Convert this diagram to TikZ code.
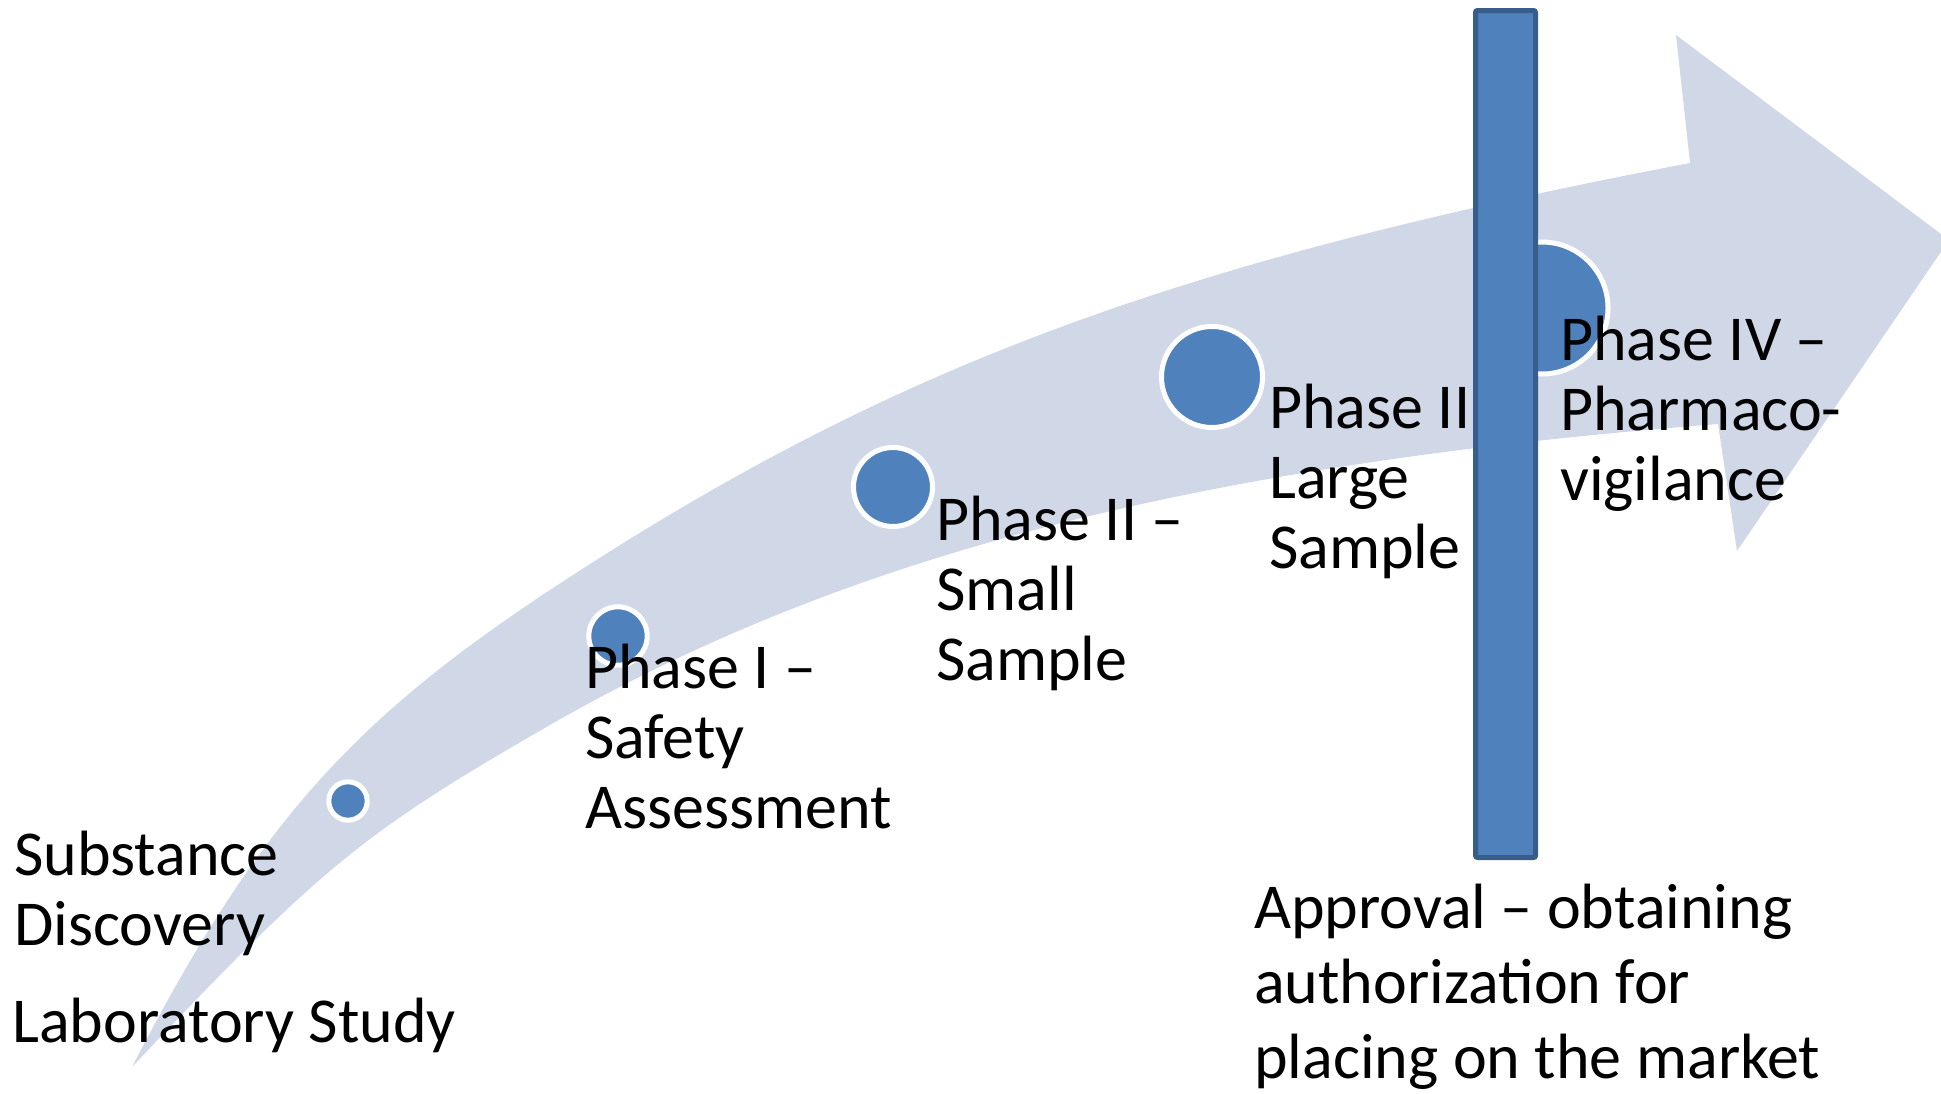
\documentclass[tikz,border=0pt]{standalone}
\usepackage{fontspec}
\setmainfont{Carlito}
\definecolor{bandc}{RGB}{208,216,232}
\definecolor{dotc}{RGB}{79,129,189}
\definecolor{barline}{RGB}{56,93,138}
\begin{document}
\begin{tikzpicture}[x=1pt,y=-1pt,
  dot/.style={circle,inner sep=0pt,fill=dotc,draw=white,line width=5pt},
  lbl/.style={anchor=base west,inner sep=0pt,font=\fontsize{64}{70}\selectfont},
  barbox/.style={rectangle,inner sep=0pt,fill=dotc,draw=barline,line width=5pt,rounded corners=2pt},
]
\clip (0,0) rectangle (1941,1093);
% curved arrow band
\fill[bandc] (132,1067) .. controls (256,827) and (350,722) .. (550,590)
  .. controls (886,368.5) and (1171,262) .. (1690,163)
  -- (1676,35) -- (1949,240) -- (1737,551) -- (1718,424)
  .. controls (1196,464.8) and (845.6,555.2) .. (550,725)
  .. controls (363.5,832.1) and (321.6,866.3) .. (132,1067)
  -- cycle;
% milestone dots
\node[dot,minimum size=38.4pt] (c1) at (348,801) {};
\node[dot,minimum size=58.4pt] (c2) at (618,636) {};
\node[dot,minimum size=79pt] (c3) at (893,487) {};
\node[dot,minimum size=101pt] (c4) at (1212,377) {};
\node[dot,minimum size=132pt] (c5) at (1542,308) {};
% labels
\node[lbl] (sd) at (14,875) {\begin{tabular}[t]{@{}l@{}}Substance\\Discovery\end{tabular}};
\node[lbl] (ls) at (12,1042) {Laboratory Study};
\node[lbl] (p1) at (585,688) {\begin{tabular}[t]{@{}l@{}}Phase I –\\Safety\\Assessment\end{tabular}};
\node[lbl] (p2) at (936,540) {\begin{tabular}[t]{@{}l@{}}Phase II –\\Small\\Sample\end{tabular}};
\node[lbl] (p3) at (1269,428) {\begin{tabular}[t]{@{}l@{}}Phase II\\Large\\Sample\end{tabular}};
\node[lbl] (p4) at (1560,360) {\begin{tabular}[t]{@{}l@{}}Phase IV –\\Pharmaco-\\vigilance\end{tabular}};
\node[lbl,font=\fontsize{64}{75}\selectfont] (ap) at (1254,928) {\begin{tabular}[t]{@{}l@{}}Approval – obtaining\\authorization for\\placing on the market\end{tabular}};
% approval bar
\node[barbox,minimum width=60pt,minimum height=847pt] (bar) at (1505.5,434) {};
\end{tikzpicture}
\end{document}
